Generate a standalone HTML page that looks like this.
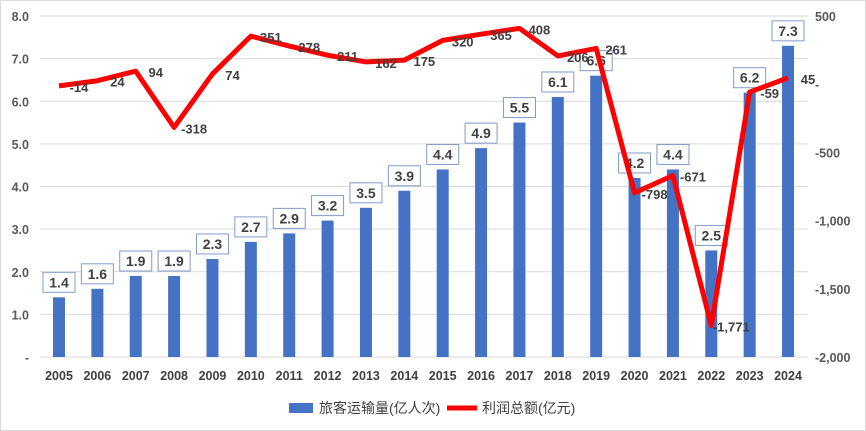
<!DOCTYPE html>
<html><head><meta charset="utf-8"><style>
html,body{margin:0;padding:0;background:#fff;}
svg{display:block;font-family:"Liberation Sans","Noto Sans CJK SC",sans-serif;}
</style></head><body>
<svg id="c" width="866" height="431" xmlns="http://www.w3.org/2000/svg"></svg>
<script>
const s=document.getElementById('c');
let h='<rect x="0.5" y="0.5" width="865" height="430" fill="#fff" stroke="#d9d9d9"/>';
const y0=357,pu=42.625,ry=v=>84-v*0.1364;
const X=i=>59+i*38.37;
const L=['8.0','7.0','6.0','5.0','4.0','3.0','2.0','1.0','-'];
for(let k=0;k<=8;k++){const y=y0-(8-k)*pu;
h+=`<line x1="40" x2="808" y1="${y}" y2="${y}" stroke="#d9d9d9" stroke-width="1"/>`;
h+=`<text x="29" y="${y+5}" text-anchor="end" font-size="12.5" font-weight="bold" fill="#595959">${L[k]}</text>`;}
const R=['500','-','-500','-1,000','-1,500','-2,000'];
R.forEach((t,k)=>{h+=`<text x="815" y="${16+k*68.2+5}" font-size="12.5" font-weight="bold" fill="#595959">${t}</text>`;});
const b=[1.4,1.6,1.9,1.9,2.3,2.7,2.9,3.2,3.5,3.9,4.4,4.9,5.5,6.1,6.6,4.2,4.4,2.5,6.2,7.3];
const p=[-14,24,94,-318,74,351,278,211,162,175,320,365,408,206,261,-798,-671,-1771,-59,45];
b.forEach((v,i)=>{const x=X(i),t=y0-v*pu;
h+=`<rect x="${x-6}" y="${t}" width="12" height="${y0-t}" fill="#4472c4"/>`;
h+=`<text x="${x}" y="${y0+23}" text-anchor="middle" font-size="12.5" font-weight="bold" fill="#404040">${2005+i}</text>`;});
b.forEach((v,i)=>{const x=X(i),t=y0-v*pu;
h+=`<rect x="${x-16}" y="${t-25}" width="32" height="20" fill="#fff" stroke="#7f9cc8" stroke-width="1"/>`;
h+=`<text x="${x}" y="${t-10}" text-anchor="middle" font-size="14" font-weight="bold" fill="#404040">${v.toFixed(1)}</text>`;});
h+=`<polyline fill="none" stroke="#ff0000" stroke-width="5" stroke-linejoin="round" points="${p.map((v,i)=>X(i)+','+ry(v)).join(' ')}"/>`;
p.forEach((v,i)=>{const x=X(i)+20,y=ry(v);
h+=`<text x="${x}" y="${y+6}" text-anchor="middle" font-size="13" font-weight="bold" fill="#404040">${v.toLocaleString('en-US')}</text>`;});
h+=`<rect x="289" y="403" width="24" height="10" fill="#4472c4"/><text x="319" y="413" font-size="14" fill="#404040">旅客运输量(亿人次)</text>`;
h+=`<line x1="447" x2="477" y1="408" y2="408" stroke="#ff0000" stroke-width="5"/><text x="482" y="413" font-size="14" fill="#404040">利润总额(亿元)</text>`;
s.innerHTML=h;
</script>
</body></html>
